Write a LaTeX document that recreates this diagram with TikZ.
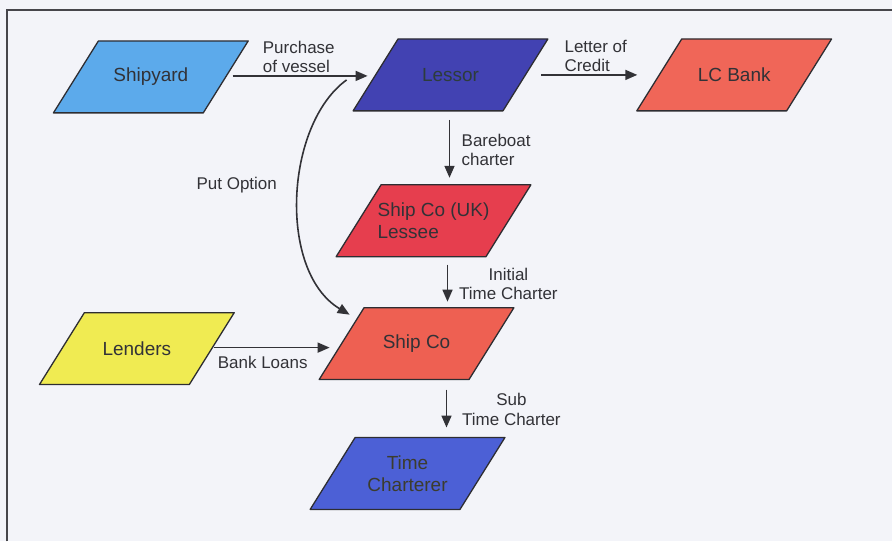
\documentclass[tikz,border=0pt]{standalone}
\usepackage{fontspec}
\setmainfont{Liberation Sans}
\usetikzlibrary{arrows.meta,calc}

\definecolor{bgcol}{RGB}{243,244,249}
\definecolor{framegray}{RGB}{70,70,75}
\definecolor{edgegray}{RGB}{45,45,50}
\definecolor{labelgray}{RGB}{50,50,55}
\definecolor{arrowgray}{RGB}{50,50,55}
\definecolor{yardblue}{RGB}{92,170,235}
\definecolor{lessorblue}{RGB}{66,66,178}
\definecolor{lcred}{RGB}{240,102,88}
\definecolor{ukred}{RGB}{230,62,78}
\definecolor{lendyellow}{RGB}{240,235,82}
\definecolor{shipred}{RGB}{238,96,82}
\definecolor{tcblue}{RGB}{76,96,214}

\pgfdeclarelayer{shapes}
\pgfsetlayers{shapes,main}

% slanted box (150 wide, 72 high, 45 lean) drawn behind a named node
\newcommand\slantbox[2]{%
  \begin{pgfonlayer}{shapes}
    \filldraw[fill=#2, draw=edgegray, line width=1.3pt, line join=round]
      ($(#1.center)+(-52.5,-36)$) -- ++(150,0) -- ++(-45,72) -- ++(-150,0) -- cycle;
  \end{pgfonlayer}}

\begin{document}
\begin{tikzpicture}[x=1pt,y=-1pt,
  party/.style={minimum width=150pt, minimum height=72pt, inner sep=0pt,
    text=labelgray, font=\fontsize{19}{22}\selectfont, align=center},
  lbl/.style={font=\fontsize{17}{19.5}\selectfont, text=labelgray, inner sep=0pt},
  arr/.style={-{Triangle[length=12pt,width=10pt]}, line width=1.6pt, draw=arrowgray}
]
% page and frame
\begin{pgfonlayer}{shapes}
  \fill[bgcol] (0,0) rectangle (893,542);
  \draw[framegray, line width=2pt] (7,542) -- (7,10) -- (893,10);
\end{pgfonlayer}

% parties
\node[party] (shipyard) at (151,77)  {Shipyard};
\node[party, text={rgb,255:red,45;green,60;blue,60}] (lessor) at (451,75) {Lessor};
\node[party] (lcbank)   at (735,75)  {LC Bank};
\node[party, align=left] (ukco) at (434,221) {Ship Co (UK)\\Lessee};
\node[party] (lenders)  at (137,349) {Lenders};
\node[party] (shipco)   at (417,344) {Ship Co};
\node[party, text={rgb,255:red,60;green,60;blue,45}] (tc) at (408,474) {Time\\Charterer};

\slantbox{shipyard}{yardblue}
\slantbox{lessor}{lessorblue}
\slantbox{lcbank}{lcred}
\slantbox{ukco}{ukred}
\slantbox{lenders}{lendyellow}
\slantbox{shipco}{shipred}
\slantbox{tc}{tcblue}

% flows
\draw[arr] ($(shipyard.center)+(82,-1)$) -- ($(lessor.center)+(-83,1)$);
\draw[arr] ($(lessor.center)+(91,0)$) -- ($(lcbank.center)+(-97,0)$);
\draw[arr] ($(lessor.center)+(-1,45)$) -- ($(ukco.center)+(16,-43)$);
\draw[arr] ($(ukco.center)+(14,44)$) -- ($(shipco.center)+(31,-42)$);
\draw[arr] ($(shipco.center)+(30,46)$) -- ($(tc.center)+(39,-46)$);
\draw[arr] ($(lenders.center)+(77,-1)$) -- ($(shipco.center)+(-87,4)$);
\draw[arr] ($(lessor.center)+(-104,5)$) .. controls (285,125) and (278,272) .. ($(shipco.center)+(-67,-29)$);

% flow labels
\node[lbl, anchor=west, align=left] (lpurchase) at (263,57)  {Purchase\\of vessel};
\node[lbl, anchor=west, align=left] (lletter)   at (565,56)  {Letter of\\Credit};
\node[lbl, anchor=west, align=left] (lbare)     at (462,150) {Bareboat\\charter};
\node[lbl] (lput)     at (237,185) {Put Option};
\node[lbl, align=center] (linitial) at (509,284) {Initial\\Time Charter};
\node[lbl, align=center] (lsub)     at (512,410) {Sub\\Time Charter};
\node[lbl] (lloans)   at (263,363) {Bank Loans};
\end{tikzpicture}
\end{document}
